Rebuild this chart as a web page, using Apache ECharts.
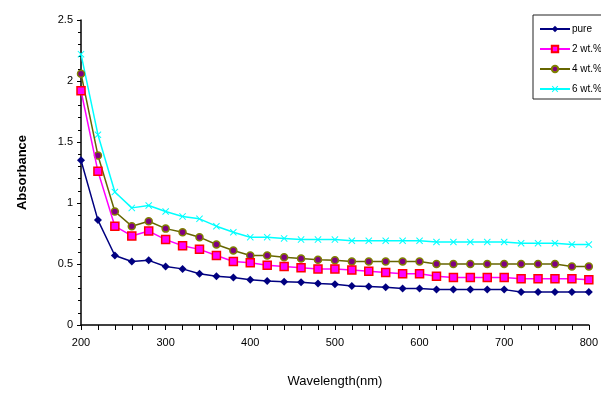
<!DOCTYPE html>
<html><head><meta charset="utf-8">
<script src="https://cdn.jsdelivr.net/npm/echarts@6/dist/echarts.min.js"></script>
<style>html,body{margin:0;padding:0;background:#fff}#c{width:601px;height:397px}</style>
</head><body><div id="c"></div>
<script>
const wavelengths = [200,220,240,260,280,300,320,340,360,380,400,420,440,460,480,500,520,540,560,580,600,620,640,660,680,700,720,740,760,780,800];
const pure = [1.35,0.86,0.57,0.52,0.53,0.48,0.46,0.42,0.40,0.39,0.37,0.36,0.355,0.35,0.34,0.335,0.32,0.315,0.31,0.30,0.30,0.29,0.29,0.29,0.29,0.29,0.27,0.27,0.27,0.27,0.27];
const wt2 = [1.92,1.26,0.81,0.73,0.77,0.70,0.65,0.62,0.57,0.52,0.51,0.49,0.48,0.47,0.46,0.46,0.45,0.44,0.43,0.42,0.42,0.40,0.39,0.39,0.39,0.39,0.38,0.38,0.38,0.38,0.37];
const wt4 = [2.06,1.39,0.93,0.81,0.85,0.79,0.76,0.72,0.66,0.61,0.57,0.57,0.555,0.545,0.535,0.53,0.52,0.52,0.52,0.52,0.52,0.50,0.50,0.50,0.50,0.50,0.50,0.50,0.50,0.48,0.48];
const wt6 = [2.22,1.56,1.09,0.96,0.98,0.93,0.89,0.87,0.81,0.76,0.72,0.72,0.71,0.70,0.70,0.70,0.69,0.69,0.69,0.69,0.69,0.68,0.68,0.68,0.68,0.68,0.67,0.67,0.67,0.66,0.66];
const seriesNames = ['pure','2 wt.%','4 wt.%','6 wt.%'];

const pair = arr => wavelengths.map((w,i)=>[w,arr[i]]);
const xSym = 'path://M0,1L1,0L5,4L9,0L10,1L6,5L10,9L9,10L5,6L1,10L0,9L4,5Z';
const font = 'Liberation Sans';
const chart = echarts.init(document.getElementById('c'));
chart.setOption({
  animation:false,
  backgroundColor:'#fff',
  textStyle:{fontFamily:font},
  grid:{left:81,right:10,top:20,bottom:72},
  legend:{
    left:533, top:15, orient:'vertical', itemGap:10,
    itemWidth:30, itemHeight:8,
    borderColor:'#222', borderWidth:1, padding:[9,40,5,6],
    textStyle:{fontSize:10,color:'#000',fontFamily:font, padding:[0,0,0,-3]},
    data:seriesNames
  },
  xAxis:{
    type:'value', min:200, max:800, interval:100,
    name:'Wavelength(nm)', nameLocation:'middle', nameGap:50,
    nameTextStyle:{fontSize:13,color:'#000',fontFamily:font},
    axisLine:{lineStyle:{color:'#000',width:1.5}},
    axisTick:{show:true,length:5,lineStyle:{color:'#000'}},
    minorTick:{show:true,splitNumber:5,length:5,lineStyle:{color:'#000'}},
    axisLabel:{fontSize:11,color:'#000',margin:12,fontFamily:font},
    splitLine:{show:false}
  },
  yAxis:{
    type:'value', min:0, max:2.5, interval:0.5,
    name:'Absorbance', nameLocation:'middle', nameGap:52, nameRotate:90,
    nameTextStyle:{fontSize:13,fontWeight:'bold',color:'#000',fontFamily:font},
    axisLine:{show:true,lineStyle:{color:'#000',width:1.5}},
    axisTick:{show:true,length:4,lineStyle:{color:'#000'}},
    minorTick:{show:true,splitNumber:5,length:3,lineStyle:{color:'#000'}},
    axisLabel:{fontSize:11,color:'#000',margin:8,fontFamily:font},
    splitLine:{show:false}
  },
  series:[
    {name:seriesNames[0],type:'line',data:pair(pure),symbol:'diamond',symbolSize:8,
     lineStyle:{color:'#000080',width:1.5},itemStyle:{color:'#000080'},z:5},
    {name:seriesNames[1],type:'line',data:pair(wt2),symbol:'rect',symbolSize:8,
     lineStyle:{color:'#FF00FF',width:1.5},itemStyle:{color:'#FF00FF',borderColor:'#FF0000',borderWidth:1.5},z:4},
    {name:seriesNames[2],type:'line',data:pair(wt4),symbol:'circle',symbolSize:7,
     lineStyle:{color:'#666600',width:1.5},itemStyle:{color:'#800080',borderColor:'#808000',borderWidth:1.5},z:3},
    {name:seriesNames[3],type:'line',data:pair(wt6),symbol:xSym,symbolSize:7,
     lineStyle:{color:'#00FFFF',width:1.5},itemStyle:{color:'#00FFFF'},z:2}
  ]
});
</script></body></html>
